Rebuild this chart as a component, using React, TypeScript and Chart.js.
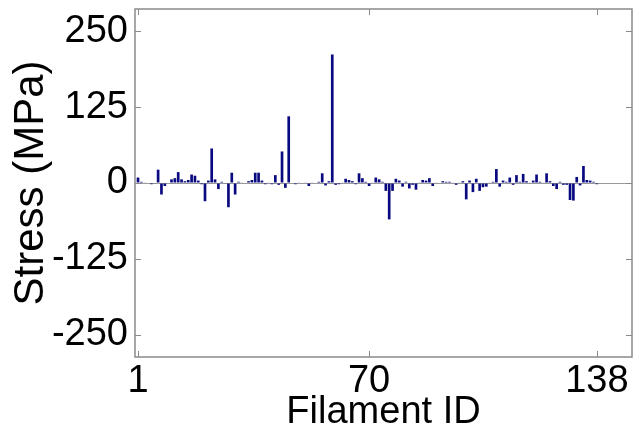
import React, { useEffect, useRef } from "react";
import { Chart, registerables } from "chart.js";

Chart.register(...registerables);

const filamentIds: number[] = Array.from({ length: 138 }, (_, i) => i + 1);
const stressValues: number[] = [
  9, 2, 1, 0, -2, -1, 22, -19, -5, 0,
  6, 8, 18, 6, 3, 5, 14, 12, 4, -2,
  -30, 4, 57, 6, -10, 2, -1, -40, 17, -19,
  2, 1, 0, 3, 5, 17, 17, 4, -2, 1,
  -2, 13, -3, 52, -8, 110, 0, -2, 1, 0,
  1, -5, 1, 0, 2, 16, -4, 3, 212, -3,
  -2, 1, 7, 5, 3, -2, 16, 8, 2, -5,
  1, 9, 6, 2, -13, -60, -13, 7, 4, -6,
  2, -9, -3, -11, 1, 5, 4, 8, -5, 1,
  0, 3, 2, 2, 1, -3, 1, 3, -27, 4,
  -15, 7, -13, -7, -6, 1, 2, 23, -6, 4,
  2, 9, -3, 13, 2, 15, 3, 1, 4, 14,
  2, 1, 16, 3, -5, -10, 2, -3, -3, -28,
  -29, 10, -4, 28, 5, 4, 2, -2,
];
const xTickValues: number[] = [1, 70, 138];
const yTickValues: number[] = [-250, -125, 0, 125, 250];

const FONT = "'Liberation Sans', Arial, sans-serif";
const AXIS_GRAY = "#8a8a8a";

const boxPlugin = {
  id: "matlabBox",
  afterDraw(chart: any) {
    const { ctx, chartArea } = chart;
    const { left, right, top, bottom } = chartArea;
    const xs = chart.scales.x;
    const ys = chart.scales.y;
    ctx.save();
    ctx.strokeStyle = AXIS_GRAY;
    ctx.lineWidth = 1.5;
    ctx.strokeRect(left, top, right - left, bottom - top);
    ctx.lineWidth = 1;
    const tl = 6;
    ctx.beginPath();
    for (const v of yTickValues) {
      const y = Math.round(ys.getPixelForValue(v)) + 0.5;
      ctx.moveTo(left, y);
      ctx.lineTo(left + tl, y);
      ctx.moveTo(right, y);
      ctx.lineTo(right - tl, y);
    }
    for (const v of xTickValues) {
      const x = Math.round(xs.getPixelForValue(v)) + 0.5;
      ctx.moveTo(x, bottom);
      ctx.lineTo(x, bottom - tl);
      ctx.moveTo(x, top);
      ctx.lineTo(x, top + tl);
    }
    ctx.stroke();
    ctx.restore();
  },
};

export default function App() {
  const canvasRef = useRef<HTMLCanvasElement | null>(null);

  useEffect(() => {
    document.body.style.margin = "0";
    const canvas = canvasRef.current;
    if (!canvas) return;
    const chart = new Chart(canvas, {
      type: "bar",
      data: {
        datasets: [
          {
            data: filamentIds.map((id, i) => ({ x: id, y: stressValues[i] })),
            backgroundColor: "#0a0a80",
            borderWidth: 0,
            barPercentage: 0.8,
            categoryPercentage: 1.0,
          },
        ],
      },
      options: {
        animation: false,
        responsive: false,
        devicePixelRatio: 1,
        layout: { padding: { top: 9, right: 1, left: 0, bottom: 0 } },
        plugins: { legend: { display: false }, tooltip: { enabled: false } },
        scales: {
          x: {
            type: "linear",
            offset: false,
            min: 0.1,
            max: 148.5,
            afterBuildTicks: (scale: any) => {
              scale.ticks = xTickValues.map((v) => ({ value: v }));
            },
            afterFit: (scale: any) => {
              scale.height = 78;
              scale.paddingLeft = 0;
              scale.paddingRight = 0;
            },
            grid: { display: false, drawTicks: false, offset: false },
            border: { display: false },
            ticks: {
              color: "#000",
              font: { family: FONT, size: 38 },
              padding: 2,
              maxRotation: 0,
              autoSkip: false,
              callback: (v: any) => String(v),
            },
            title: {
              display: true,
              text: "Filament ID",
              color: "#000",
              font: { family: FONT, size: 38 },
              padding: { top: 0, bottom: 0 },
            },
          },
          y: {
            type: "linear",
            min: -287,
            max: 287,
            afterBuildTicks: (scale: any) => {
              scale.ticks = yTickValues.map((v) => ({ value: v }));
            },
            afterFit: (scale: any) => {
              scale.width = 135;
              scale.paddingTop = 0;
              scale.paddingBottom = 0;
            },
            grid: {
              drawTicks: false,
              color: (c: any) => (c.tick && c.tick.value === 0 ? "#9a9a9a" : "rgba(0,0,0,0)"),
              lineWidth: 1,
            },
            border: { display: false },
            ticks: {
              color: "#000",
              font: { family: FONT, size: 38 },
              padding: 7,
              autoSkip: false,
              callback: (v: any) => String(v),
            },
            title: {
              display: true,
              text: "Stress (MPa)",
              color: "#000",
              font: { family: FONT, size: 42 },
              padding: { top: 6, bottom: 0 },
            },
          },
        },
      },
      plugins: [boxPlugin],
    });
    return () => chart.destroy();
  }, []);

  return (
    <div style={{ position: "fixed", left: 0, top: 0, width: 633, height: 435, background: "#fff" }}>
      <canvas ref={canvasRef} width={633} height={435} />
    </div>
  );
}
